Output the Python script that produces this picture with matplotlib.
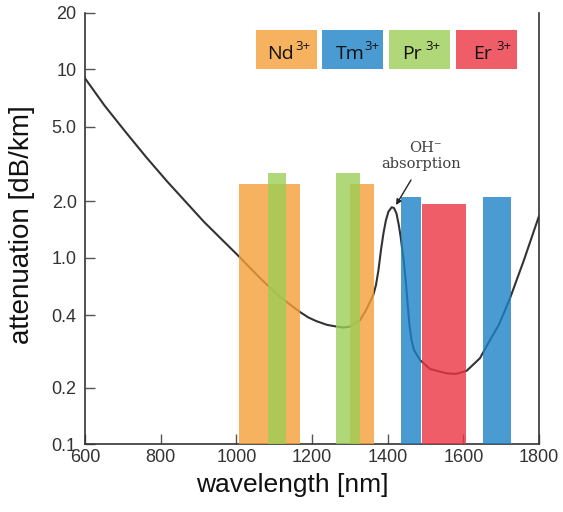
import numpy as np
import matplotlib
matplotlib.use("Agg")
import matplotlib.pyplot as plt
from matplotlib.patches import Rectangle

plt.rcParams['font.family'] = ['Liberation Sans', 'DejaVu Sans']

# ---------------- data ----------------
wavelength = [600, 652, 707.5, 762.5, 817.5, 914.5, 1012, 1063, 1115, 1168, 1190, 1212, 1240, 1266,
              1283, 1300, 1327, 1343, 1362, 1369.1, 1375.7, 1382.3, 1389.0, 1395.5, 1402.2,
              1410.6, 1416.7, 1423.3, 1429.4, 1434.4, 1438.6, 1443.1, 1447.1, 1450.5, 1453.7,
              1457.6, 1463.0, 1469.5, 1485.4, 1511.8, 1556, 1580.6, 1608.8, 1644, 1666,
              1694.2, 1723.3, 1760.3, 1800]
attenuation = [8.97, 6.44, 4.68, 3.42, 2.54, 1.55, 0.99, 0.72, 0.536, 0.42, 0.391, 0.377, 0.364, 0.358,
               0.355, 0.358, 0.381, 0.433, 0.551, 0.646, 0.821, 1.099, 1.352, 1.585, 1.759,
               1.852, 1.836, 1.717, 1.492, 1.288, 1.099, 0.919, 0.723, 0.568, 0.447,
               0.3635, 0.315, 0.2865, 0.2604, 0.239, 0.2294, 0.228, 0.235, 0.265, 0.306,
               0.365, 0.522, 0.964, 1.665]

bar_ion = ['Nd', 'Nd', 'Pr', 'Pr', 'Tm', 'Er', 'Tm']
bar_start = [1007, 1301, 1084, 1264, 1436, 1491, 1653]
bar_end = [1169, 1365, 1132, 1327, 1489, 1608, 1726]
bar_top = [2.46, 2.46, 2.83, 2.83, 2.09, 1.92, 2.11]

legend_ions = ['Nd', 'Tm', 'Pr', 'Er']
legend_charge = ['3+', '3+', '3+', '3+']

y_ticks = [0.1, 0.2, 0.4, 1.0, 2.0, 5.0, 10, 20]
y_ticklabels = ['0.1', '0.2', '0.4', '1.0', '2.0', '5.0', '10', '20']
x_ticks = [600, 800, 1000, 1200, 1400, 1600, 1800]

# ---------------- style ----------------
ion_color = {'Nd': '#F69F38', 'Tm': '#1D82C7', 'Pr': '#9CCE56', 'Er': '#EC3642'}
ALPHA = 0.8
W, H = 563, 512
# vertical pixel spacing of the (hand-placed) y tick grid, from bottom
YSCALE_PIX = [0, 56.6, 129.3, 186.6, 243.3, 317.6, 375, 431.6]
log_ticks = np.log10(y_ticks)


def fwd(v):
    v = np.clip(np.asarray(v, dtype=float), 1e-6, None)
    return np.interp(np.log10(v), log_ticks, YSCALE_PIX)


def inv(p):
    return 10 ** np.interp(np.asarray(p, dtype=float), YSCALE_PIX, log_ticks)


def fig_xy(x, y):
    return (x / W, 1 - y / H)


fig = plt.figure(figsize=(W / 100, H / 100), dpi=100)
ax = fig.add_axes([85 / W, 1 - 444.3 / H, (539 - 85) / W, (444.3 - 12.7) / H])
ax.set_yscale('function', functions=(fwd, inv))
ax.set_xlim(600, 1800)
ax.set_ylim(0.1, 20)

ax.plot(wavelength, attenuation, color='#333333', lw=1.5, zorder=2,
        solid_joinstyle='round')

for ion, s, e, t in zip(bar_ion, bar_start, bar_end, bar_top):
    ax.bar(s, t - 0.1, bottom=0.1, width=e - s, align='edge',
           color=ion_color[ion], alpha=ALPHA, linewidth=0, zorder=3)

ax.set_yticks(y_ticks)
ax.set_yticklabels(y_ticklabels)
ax.set_xticks(x_ticks)
ax.minorticks_off()
ax.tick_params(axis='both', direction='in', length=7, width=1, color='#555555',
               labelsize=13, labelcolor='#333333')
ax.tick_params(axis='y', pad=6)
ax.tick_params(axis='x', pad=3.5)
# the lowest y label sits slightly above its tick in the reference
ax.get_yticklabels()[0].set_verticalalignment('center_baseline')

for side in ['left', 'bottom', 'right']:
    ax.spines[side].set_color('#333333')
    ax.spines[side].set_linewidth(1.2)
ax.spines['top'].set_visible(False)

ax.set_xlabel('wavelength [nm]', fontsize=19, color='#111111')
ax.xaxis.set_label_coords((292.5 - 85) / 454, -0.066)
ax.set_ylabel('attenuation [dB/km]', fontsize=20, color='#111111')
ax.yaxis.set_label_coords((35 - 85) / 454, 0.51)

# legend boxes
box_x = [256, 322.3, 389, 456]
box_w = 61
text_x = [267.3, 335.5, 402.3, 473.3]
sup_x = [295.5, 364, 425, 496.7]
for ion, ch, bx, tx, sx in zip(legend_ions, legend_charge, box_x, text_x, sup_x):
    x0, y0 = fig_xy(bx, 69.3)
    fig.add_artist(Rectangle((x0, y0), box_w / W, 39.3 / H, transform=fig.transFigure,
                             facecolor=ion_color[ion], alpha=ALPHA, linewidth=0))
    fig.text(*fig_xy(tx, 59), ion, fontsize=14, family='Open Sans', color='#111111',
             ha='left', va='baseline')
    fig.text(*fig_xy(sx, 50), ch, fontsize=9.5, family='Open Sans', color='#111111',
             ha='left', va='baseline')

# OH- annotation
fig.text(*fig_xy(425, 151.7), 'OH\u207b', fontsize=10.5, family='DejaVu Serif',
         color='#404040', ha='center', va='baseline')
fig.text(*fig_xy(421, 168), 'absorption', fontsize=10.5, family='DejaVu Serif',
         color='#404040', ha='center', va='baseline')
ax.annotate('', xy=fig_xy(396, 205), xycoords='figure fraction',
            xytext=fig_xy(411, 180), textcoords='figure fraction',
            arrowprops=dict(arrowstyle='-|>', color='#222222', lw=1.0,
                            mutation_scale=8, shrinkA=0, shrinkB=0))

fig.savefig('out.png', dpi=100)
